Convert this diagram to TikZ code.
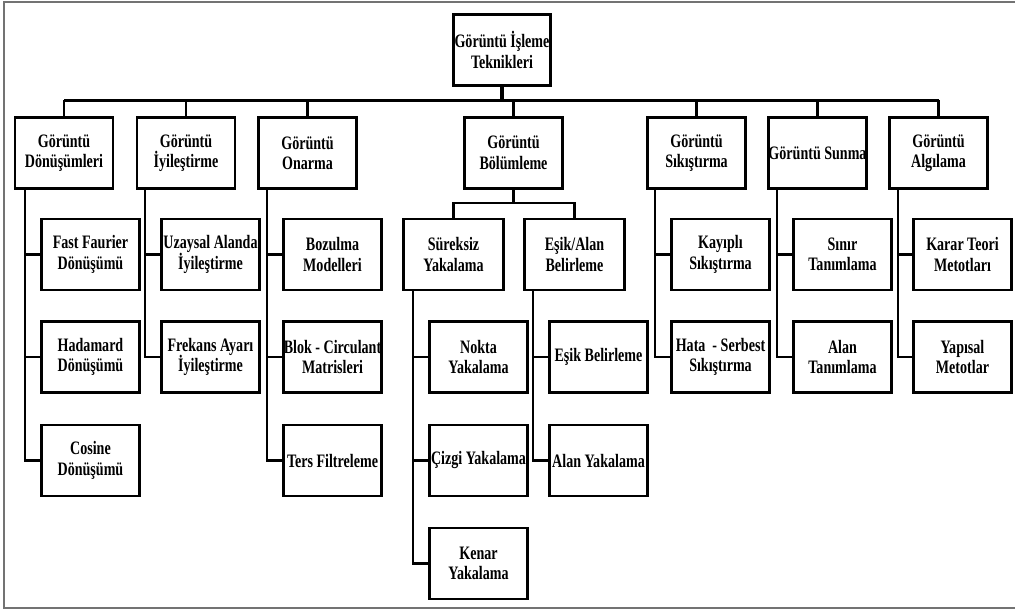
\documentclass[tikz,border=0pt]{standalone}
\usepackage{fontspec}
\setmainfont{Liberation Serif}[FakeStretch=0.74]
\begin{document}
\begin{tikzpicture}[x=1pt,y=-1pt,
  box/.style={draw=black, line width=2.8pt, fill=white, minimum width=98pt, minimum height=71pt,
    inner sep=0pt, align=center, font=\bfseries\fontsize{19}{20.5}\selectfont},
  conn/.style={draw=black, line width=2.5pt},
  frame/.style={draw=black!55, line width=1.4pt}]
\useasboundingbox (0,0) rectangle (1015,610);
\draw[frame] (1016,2) -- (4,2) -- (4,608) -- (1016,608);
% root
\node[box, minimum width=97pt] (root) at (502,50) {Görüntü İşleme\\Teknikleri};
% level 1
\node[box] (D) at (64,153) {Görüntü\\Dönüşümleri};
\node[box] (I) at (186,153) {Görüntü\\İyileştirme};
\node[box] (O) at (307.5,153) {Görüntü\\Onarma};
\node[box] (B) at (513.5,153) {Görüntü\\Bölümleme};
\node[box] (S) at (696.5,153) {Görüntü\\Sıkıştırma};
\node[box] (Su) at (817.5,153) {Görüntü Sunma};
\node[box] (A) at (938.5,153) {Görüntü\\Algılama};
% bus
\coordinate (busL) at (64,100);
\coordinate (busR) at (938.5,100);
\draw[conn, line width=3.2pt] (root.south) -- (root.south |- busL);
\draw[conn, line width=3pt] (busL) -- (busR);
\foreach \n in {D,I,O,B,S,Su,A} {\draw[conn] (\n.north |- busL) -- (\n.north);}
% Dönüşümleri children
\node[box] (D1) at (90.5,254.5) {Fast Faurier\\Dönüşümü};
\node[box] (D2) at (90.5,357) {Hadamard\\Dönüşümü};
\node[box] (D3) at (90.5,460.5) {Cosine\\Dönüşümü};
\coordinate (Dt) at (25,190);
\foreach \c in {D1,D2,D3} {\draw[conn] (Dt) |- (\c.west);}
% İyileştirme children
\node[box] (I1) at (210.5,254.5) {Uzaysal Alanda\\İyileştirme};
\node[box] (I2) at (210.5,357) {Frekans Ayarı\\İyileştirme};
\coordinate (It) at (145,190);
\foreach \c in {I1,I2} {\draw[conn] (It) |- (\c.west);}
% Onarma children
\node[box] (O1) at (332.5,254.5) {Bozulma\\Modelleri};
\node[box] (O2) at (332.5,357) {Blok - Circulant\\Matrisleri};
\node[box] (O3) at (332.5,460.5) {Ters Filtreleme};
\coordinate (Ot) at (267,190);
\foreach \c in {O1,O2,O3} {\draw[conn] (Ot) |- (\c.west);}
% Bölümleme
\node[box, minimum width=100pt] (B1) at (453.5,254.5) {Süreksiz\\Yakalama};
\node[box, minimum width=100pt] (B2) at (574.5,254.5) {Eşik/Alan\\Belirleme};
\coordinate (Bm) at (513.5,203);
\draw[conn] (B.south) -- (Bm);
\draw[conn] (B1.north) |- (Bm) -| (B2.north);
\node[box] (B11) at (478.5,357) {Nokta\\Yakalama};
\node[box] (B12) at (478.5,460.5) {Çizgi Yakalama};
\node[box] (B13) at (478.5,563.5) {Kenar\\Yakalama};
\coordinate (B1t) at (413,291);
\foreach \c in {B11,B12,B13} {\draw[conn] (B1t) |- (\c.west);}
\node[box] (B21) at (598.5,357) {Eşik Belirleme};
\node[box] (B22) at (598.5,460.5) {Alan Yakalama};
\coordinate (B2t) at (533,291);
\foreach \c in {B21,B22} {\draw[conn] (B2t) |- (\c.west);}
% Sıkıştırma
\node[box] (S1) at (720.5,254.5) {Kayıplı\\Sıkıştırma};
\node[box] (S2) at (720.5,357) {Hata~~- Serbest\\Sıkıştırma};
\coordinate (St) at (655,190);
\foreach \c in {S1,S2} {\draw[conn] (St) |- (\c.west);}
% Sunma
\node[box] (Su1) at (842.5,254.5) {Sınır\\Tanımlama};
\node[box] (Su2) at (842.5,357) {Alan\\Tanımlama};
\coordinate (Sut) at (777,190);
\foreach \c in {Su1,Su2} {\draw[conn] (Sut) |- (\c.west);}
% Algılama
\node[box] (A1) at (962.5,254.5) {Karar Teori\\Metotları};
\node[box] (A2) at (962.5,357) {Yapısal\\Metotlar};
\coordinate (At) at (898,190);
\foreach \c in {A1,A2} {\draw[conn] (At) |- (\c.west);}
\end{tikzpicture}
\end{document}
